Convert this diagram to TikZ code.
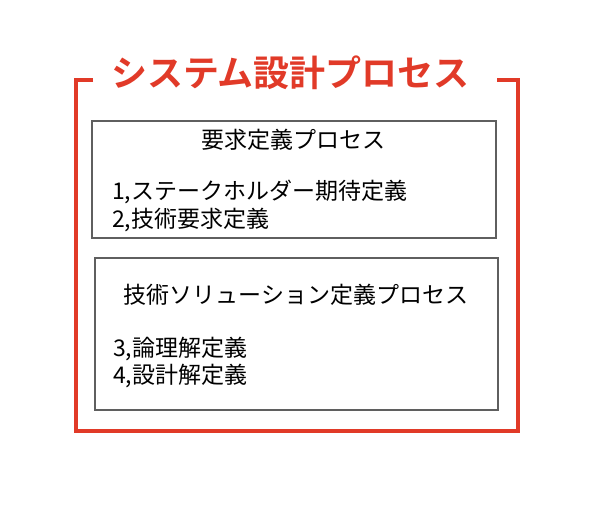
\documentclass[tikz,border=0pt]{standalone}
\usepackage{fontspec}
\newfontfamily\cjk{Noto Sans CJK JP}
\newfontfamily\cjkb{Noto Sans CJK JP Bold}
\definecolor{framered}{RGB}{225,58,40}
\definecolor{boxgrey}{RGB}{95,95,95}
\begin{document}
\begin{tikzpicture}[x=1pt,y=-1pt,
  redframe/.style={draw=framered,line width=3.5pt},
  procbox/.style={draw=boxgrey,line width=2pt},
  body/.style={font=\cjk\fontsize{23}{28}\selectfont,inner sep=0pt,align=left},
  heading/.style={font=\cjk\fontsize{23}{28}\selectfont,inner sep=0pt}]
\useasboundingbox (0,0) rectangle (597,513);
% red frame
\coordinate (tl) at (76,80);
\coordinate (tr) at (518,80);
\coordinate (bl) at (76,431);
\coordinate (br) at (518,431);
\coordinate (tlend) at (93,80);
\coordinate (trend) at (497,80);
\draw[redframe] (tlend) -- (tl) -- (bl) -- (br) -- (tr) -- (trend);
\node[font=\cjkb\fontsize{36}{40}\selectfont,text=framered,inner sep=0pt] (title) at (290.5,73) {システム設計プロセス};
% box 1
\coordinate (b1a) at (92,121);
\coordinate (b1b) at (496,238);
\draw[procbox] (b1a) rectangle (b1b);
\node[heading] (h1) at (293,140) {要求定義プロセス};
\node[body,anchor=west] (l1) at (112,192) {1,ステークホルダー期待定義};
\node[body,anchor=west] (l2) at (112,220) {2,技術要求定義};
% box 2
\coordinate (b2a) at (95,258);
\coordinate (b2b) at (498,410);
\draw[procbox] (b2a) rectangle (b2b);
\node[heading] (h2) at (296,295) {技術ソリューション定義プロセス};
\node[body,anchor=west] (l3) at (113,349) {3,論理解定義};
\node[body,anchor=west] (l4) at (113,376) {4,設計解定義};
\end{tikzpicture}
\end{document}
